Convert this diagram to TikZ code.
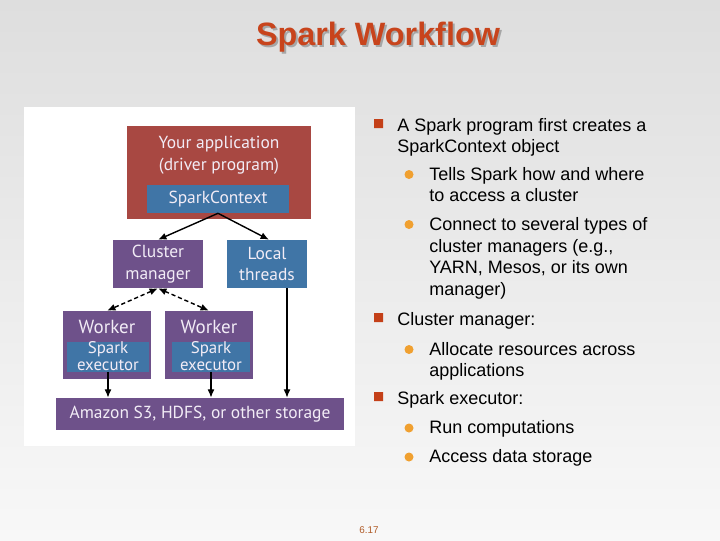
\documentclass[tikz,border=0pt]{standalone}
\usepackage{fontspec}
\setmainfont{Liberation Sans}
\newfontfamily\boxfont{PT Sans}
\usetikzlibrary{arrows.meta}

\definecolor{bgtop}{RGB}{222,222,222}
\definecolor{bgbot}{RGB}{248,248,248}
\definecolor{driverred}{RGB}{168,72,66}
\definecolor{ctxblue}{RGB}{64,117,166}
\definecolor{mgrpurple}{RGB}{110,81,138}
\definecolor{boxtext}{RGB}{242,236,246}
\definecolor{titlered}{RGB}{200,68,28}
\definecolor{squarered}{RGB}{196,64,24}
\definecolor{dotorange}{RGB}{240,160,48}
\definecolor{pagenum}{RGB}{176,92,40}

\tikzset{
  box/.style={rectangle, inner sep=0pt, text=boxtext, align=center,
    font=\boxfont\fontsize{12.4}{15.5}\selectfont},
  boxlabel/.style={inner sep=0pt, text=boxtext, align=center,
    font=\boxfont\fontsize{12.4}{15.5}\selectfont},
  line/.style={anchor=base west, inner sep=0pt, font=\fontsize{12.8}{15}\selectfont},
  arr/.style={line width=1pt, -{Latex[length=6pt,width=5pt]}},
  darr/.style={line width=1pt, dash pattern=on 3pt off 2pt, {Latex[length=6pt,width=5pt]}-{Latex[length=6pt,width=5pt]}}
}

\begin{document}
\begin{tikzpicture}[x=0.025cm, y=-0.025cm]
    % Background
    \shade[top color=bgtop, bottom color=bgbot] (0,0) rectangle (720,540);
    \useasboundingbox (0,0) rectangle (720,540);
    \fill[white] (24,107) rectangle (355,446);

    % Title
    \node[anchor=base, font=\bfseries\fontsize{23}{26}\selectfont, text=black!35] (shadow) at (380,47) {Spark Workflow};
    \node[anchor=base, font=\bfseries\fontsize{23}{26}\selectfont, text=titlered] (title) at (378,45) {Spark Workflow};

    % Draw nodes
    \node[box, fill=driverred, minimum width=4.6cm, minimum height=2.325cm] (driver) at (219,172.5) {};
    \node[boxlabel] (drivertext) at (219,155) {Your application\\(driver program)};
    \node[box, fill=ctxblue, minimum width=3.55cm, minimum height=0.7cm] (ctx) at (218,199) {SparkContext};
    \node[box, fill=mgrpurple, minimum width=2.25cm, minimum height=1.2cm] (cm) at (158,264) {Cluster\\manager};
    \node[box, fill=ctxblue, minimum width=2cm, minimum height=1.2cm] (local) at (267,264) {Local\\threads};
    \node[box, fill=mgrpurple, minimum width=2.2cm, minimum height=1.7cm] (w1) at (107,345) {};
    \node[box, fill=mgrpurple, minimum width=2.2cm, minimum height=1.7cm] (w2) at (209,345) {};
    \node[boxlabel, font=\boxfont\fontsize{13.5}{15.5}\selectfont] (w1text) at (107,326.5) {Worker};
    \node[boxlabel, font=\boxfont\fontsize{13.5}{15.5}\selectfont] (w2text) at (209,326.5) {Worker};
    \node[box, fill=ctxblue, minimum width=2.05cm, minimum height=0.75cm] (exec1) at (108,356.5) {};
    \node[box, fill=ctxblue, minimum width=1.95cm, minimum height=0.75cm] (exec2) at (211,356.5) {};
    \node[boxlabel, font=\boxfont\fontsize{12}{11.5}\selectfont] (exec1text) at (108,356) {Spark\\executor};
    \node[boxlabel, font=\boxfont\fontsize{12}{11.5}\selectfont] (exec2text) at (211,356) {Spark\\executor};
    \node[box, fill=mgrpurple, minimum width=7.2cm, minimum height=0.8cm] (store) at (200,414) {Amazon S3, HDFS, or other storage};
    \coordinate (lt) at ([xshift=0.5cm]local.south);

    % Draw connections
    \draw[arr] (ctx.south) -- (cm.north);
    \draw[arr] (ctx.south) -- ([xshift=0.05cm]local.north);
    \draw[darr] (cm.south) -- (w1.north);
    \draw[darr] (cm.south) -- (w2.north);
    \draw[arr] (exec1.south) -- (exec1.south |- store.north);
    \draw[arr] (exec2.south) -- (exec2.south |- store.north);
    \draw[arr] (lt) -- (lt |- store.north);

    % Bullets
    \fill[squarered] (374,119) rectangle (383,128) (374,313) rectangle (383,322) (374,392) rectangle (383,401);
    \fill[dotorange] (409,174.5) circle (4.5) (409,224.5) circle (4.5) (409,349.5) circle (4.5)
        (409,428) circle (4.5) (409,457) circle (4.5);

    % Text
    \node[line] (l1) at (397,131) {A Spark program first creates a};
    \node[line] (l2) at (397,152) {SparkContext object};
    \node[line] (l3) at (429,180) {Tells Spark how and where};
    \node[line] (l4) at (429,201) {to access a cluster};
    \node[line] (l5) at (429,230) {Connect to several types of};
    \node[line] (l6) at (429,252) {cluster managers (e.g.,};
    \node[line] (l7) at (429,273) {YARN, Mesos, or its own};
    \node[line] (l8) at (429,295) {manager)};
    \node[line] (l9) at (397,325) {Cluster manager:};
    \node[line] (l10) at (429,355) {Allocate resources across};
    \node[line] (l11) at (429,376) {applications};
    \node[line] (l12) at (397,404) {Spark executor:};
    \node[line] (l13) at (429,433) {Run computations};
    \node[line] (l14) at (429,462) {Access data storage};

    % Page number
    \node[anchor=base, inner sep=0pt, font=\fontsize{7}{8}\selectfont, text=pagenum] (page) at (369,533) {6.17};
\end{tikzpicture}
\end{document}
